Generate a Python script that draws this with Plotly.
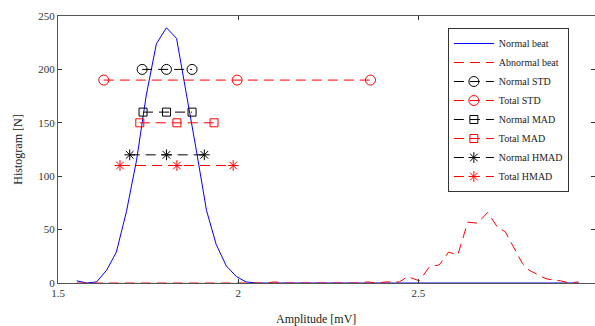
import plotly.graph_objects as go

# Normal beat histogram
normal_x = [1.552, 1.580, 1.607, 1.635, 1.662, 1.690, 1.718, 1.745, 1.773, 1.801,
            1.829, 1.856, 1.884, 1.912, 1.939, 1.967, 1.995, 2.022, 2.050, 2.10,
            2.20, 2.30, 2.40, 2.50, 2.60, 2.70, 2.80, 2.90, 2.946]
normal_y = [2, 0, 1, 12, 29, 67, 115, 176, 224, 239,
            229, 178, 124, 68, 36, 16, 6, 1, 0, 0,
            0, 0, 0, 0, 0, 0, 0, 0, 0]

# Abnormal beat histogram
abn_x = [1.552, 2.05, 2.075, 2.101, 2.13, 2.33, 2.36, 2.385, 2.41, 2.435,
         2.447, 2.470, 2.503, 2.530, 2.558, 2.584, 2.609, 2.637, 2.664, 2.692,
         2.720, 2.741, 2.766, 2.789, 2.807, 2.830, 2.854, 2.872, 2.895, 2.918, 2.944]
abn_y = [0, 0, 0, 1, 0, 0, 1, 0, 1, 1,
         1, 6, 2, 15, 17, 29, 26, 57, 56, 66,
         52, 48, 33, 18, 12, 8, 4, 3, 2, 0, 1]

# Dispersion estimates (left, centre, right)
normal_std_x = [1.7335, 1.801, 1.872]
normal_std_y = [200, 200, 200]
total_std_x = [1.627, 1.997, 2.367]
total_std_y = [190, 190, 190]
normal_mad_x = [1.736, 1.801, 1.872]
normal_mad_y = [160, 160, 160]
total_mad_x = [1.727, 1.830, 1.933]
total_mad_y = [150, 150, 150]
normal_hmad_x = [1.699, 1.801, 1.906]
normal_hmad_y = [120, 120, 120]
total_hmad_x = [1.672, 1.830, 1.986]
total_hmad_y = [110, 110, 110]

x_ticks = [1.5, 2, 2.5]
x_ticklabels = ["1.5", "2", "2.5"]
y_ticks = [0, 50, 100, 150, 200, 250]

FONT = "Liberation Serif"
DASH = "10px,6px"
RED = "#ff0000"
BLK = "#000000"

fig = go.Figure()
fig.add_trace(go.Scatter(x=normal_x, y=normal_y, mode="lines", name="Normal beat",
                         line=dict(color="#0000ff", width=1)))
fig.add_trace(go.Scatter(x=abn_x, y=abn_y, mode="lines", name="Abnormal beat",
                         line=dict(color=RED, width=1, dash=DASH)))

def est(x, y, name, color, symbol, size):
    fig.add_trace(go.Scatter(
        x=x, y=y, mode="lines+markers", name=name,
        line=dict(color=color, width=1, dash=DASH),
        marker=dict(symbol=symbol, size=size, color=color,
                    line=dict(color=color, width=1))))

est(normal_std_x, normal_std_y, "Normal STD", BLK, "circle-open", 10)
est(total_std_x, total_std_y, "Total STD", RED, "circle-open", 10)
est(normal_mad_x, normal_mad_y, "Normal MAD", BLK, "square-open", 8)
est(total_mad_x, total_mad_y, "Total MAD", RED, "square-open", 8)
est(normal_hmad_x, normal_hmad_y, "Normal HMAD", BLK, "asterisk-open", 9)
est(total_hmad_x, total_hmad_y, "Total HMAD", RED, "asterisk-open", 9)

axis_common = dict(
    showgrid=False, zeroline=False, showline=True, linecolor="#555555", linewidth=1,
    ticks="inside", ticklen=4, tickcolor="#333333", mirror="ticks",
    tickfont=dict(family=FONT, size=11, color="#333333"),
)

fig.update_layout(
    width=595, height=326,
    margin=dict(l=58, r=0, t=16, b=43),
    paper_bgcolor="white", plot_bgcolor="white",
    font=dict(family=FONT, size=11, color="#222222"),
    xaxis=dict(range=[1.5, 2.99], tickvals=x_ticks, ticktext=x_ticklabels, **axis_common),
    yaxis=dict(range=[0, 250], tickvals=y_ticks, **axis_common),
    showlegend=True,
    legend=dict(x=0.726, y=0.955, xanchor="left", yanchor="top",
                bgcolor="white", bordercolor="#333333", borderwidth=1,
                font=dict(family=FONT, size=10, color="#222222"),
                tracegroupgap=0, itemwidth=40),
    annotations=[
        dict(text="Amplitude [mV]", x=0.480, y=-0.135, xref="paper", yref="paper",
             xanchor="center", yanchor="middle", showarrow=False,
             font=dict(family=FONT, size=12, color="#222222")),
        dict(text="Histogram [N]", x=-0.076, y=0.50, xref="paper", yref="paper",
             xanchor="center", yanchor="middle", showarrow=False, textangle=-90,
             font=dict(family=FONT, size=12, color="#222222")),
    ],
)

fig.write_html("out.html")
